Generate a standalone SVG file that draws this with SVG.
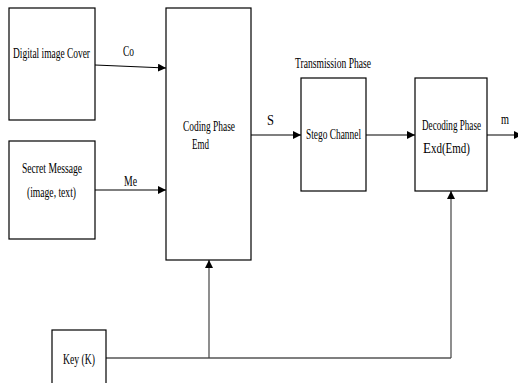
<svg xmlns="http://www.w3.org/2000/svg" width="518" height="383" viewBox="0 0 518 383">
<defs>
<style>
.box{fill:#fff;stroke:#000;stroke-width:1.2}
.ln{fill:none;stroke:#000;stroke-width:1.2}
.lg{fill:none;stroke:#444;stroke-width:1.2}
text{font-family:"Liberation Serif","Times New Roman",serif;font-size:15px;fill:#000}
.sm{font-size:14px}
</style>
<marker id="ah" viewBox="0 0 8 8" refX="8" refY="4" markerWidth="8" markerHeight="8" markerUnits="userSpaceOnUse" orient="auto">
<path d="M0,0 L8,4 L0,8 Z" fill="#000"/>
</marker>
</defs>
<rect width="518" height="383" fill="#fff"/>
<g id="connectors">
<path class="ln" d="M95,65 L166,68" marker-end="url(#ah)"/>
<path class="ln" d="M95,190 L166,190" marker-end="url(#ah)"/>
<path class="ln" d="M251,135 L301,135" marker-end="url(#ah)"/>
<path class="ln" d="M366,135 L415,135" marker-end="url(#ah)"/>
<path class="ln" d="M487,135 L522,135" marker-end="url(#ah)"/>
<path class="ln" d="M106,358 L451,358"/>
<path class="lg" d="M209,358 L209,260" marker-end="url(#ah)"/>
<path class="lg" d="M451,358 L451,191" marker-end="url(#ah)"/>
</g>
<g id="connector-labels">
<text class="sm" x="123" y="56" textLength="11" lengthAdjust="spacingAndGlyphs">Co</text>
<text class="sm" x="124" y="186" textLength="13" lengthAdjust="spacingAndGlyphs">Me</text>
<text class="sm" x="267" y="125" textLength="7" lengthAdjust="spacingAndGlyphs">S</text>
<text class="sm" x="501" y="124" textLength="8" lengthAdjust="spacingAndGlyphs">m</text>
</g>
<g id="cover">
<rect class="box" x="9" y="8" width="86" height="112"/>
<text x="13" y="58" textLength="77" lengthAdjust="spacingAndGlyphs">Digital image Cover</text>
</g>
<g id="secret">
<rect class="box" x="9" y="141" width="86" height="98"/>
<text x="22" y="173" textLength="60" lengthAdjust="spacingAndGlyphs">Secret Message</text>
<text x="27" y="197" textLength="49" lengthAdjust="spacingAndGlyphs">(image, text)</text>
</g>
<g id="coding">
<rect class="box" x="166" y="8" width="85" height="252"/>
<text x="183" y="131" textLength="52" lengthAdjust="spacingAndGlyphs">Coding Phase</text>
<text x="192" y="149" textLength="17" lengthAdjust="spacingAndGlyphs">Emd</text>
</g>
<g id="transmission-label">
<text x="295" y="68" textLength="76" lengthAdjust="spacingAndGlyphs">Transmission Phase</text>
</g>
<g id="stego">
<rect class="box" x="301" y="78" width="65" height="113"/>
<text x="306" y="139" textLength="55" lengthAdjust="spacingAndGlyphs">Stego Channel</text>
</g>
<g id="decoding">
<rect class="box" x="415" y="78" width="72" height="113"/>
<text x="422" y="130" textLength="59" lengthAdjust="spacingAndGlyphs">Decoding Phase</text>
<text x="423" y="153" font-size="17" textLength="8" lengthAdjust="spacingAndGlyphs">E</text>
<text x="431" y="153" font-size="13" textLength="39" lengthAdjust="spacingAndGlyphs">xd(Emd)</text>
</g>
<g id="key">
<rect class="box" x="52" y="330" width="54" height="60"/>
<text x="63" y="364" textLength="32" lengthAdjust="spacingAndGlyphs">Key (K)</text>
</g>
</svg>
